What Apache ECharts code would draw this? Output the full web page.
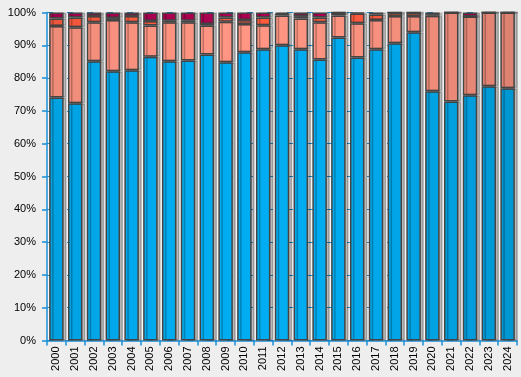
<!DOCTYPE html>
<html>
<head>
<meta charset="utf-8">
<script src="https://cdn.jsdelivr.net/npm/echarts@6/dist/echarts.min.js"></script>
<style>
html,body{margin:0;padding:0;background:#eeeeee;}
#c{width:521px;height:377px;}
</style>
</head>
<body>
<div id="c"></div>
<script>
const years = ['2000','2001','2002','2003','2004','2005','2006','2007','2008','2009','2010','2011','2012','2013','2014','2015','2016','2017','2018','2019','2020','2021','2022','2023','2024'];
const seriesBlue   = [74.1,72.3,85.1,82.1,82.4,86.5,85.1,85.4,87.2,84.8,87.9,88.8,90.0,88.8,85.7,92.4,86.3,88.8,90.6,94.0,76.0,72.9,74.8,77.5,76.9];
const seriesSalmon = [21.8,23.2,11.9,15.6,14.6,9.5,11.9,11.6,8.8,12.4,8.6,7.3,9.1,9.4,11.3,6.7,10.4,8.9,8.3,4.9,23.0,27.1,24.0,22.5,23.1];
const seriesOrange = [2.3,3.0,1.9,0.6,1.9,1.4,0.5,0.5,0.5,1.3,1.2,2.4,0.5,0.7,1.5,0.9,3.0,1.7,1.1,1.1,0.5,0,0,0,0];
const seriesMaroon = [1.8,1.5,1.1,1.7,1.1,2.6,2.5,2.5,3.5,1.5,2.3,1.5,0.4,1.1,1.5,0,0.3,0.6,0,0,0.5,0,1.2,0,0];
const yTicks = [0,10,20,30,40,50,60,70,80,90,100];

function shade(hex, f){
  const n = parseInt(hex.slice(1),16);
  const r = Math.round(((n>>16)&255)*f), g = Math.round(((n>>8)&255)*f), b = Math.round((n&255)*f);
  return 'rgb('+r+','+g+','+b+')';
}
function factor(i){ const d=(i-10)/14; return 1-0.13*d*d; }
function mk(name, data, base){
  return {
    name, type:'bar', stack:'total', barWidth:14.5,
    data: data.map((v,i)=>({value:v, itemStyle:{color:shade(base,factor(i))}})),
    itemStyle:{borderColor:'#444444', borderWidth:1.5, shadowColor:'rgba(0,0,0,0.25)', shadowOffsetX:3, shadowOffsetY:0, shadowBlur:0},
    emphasis:{disabled:true}
  };
}
const chart = echarts.init(document.getElementById('c'), null, {renderer:'canvas'});
chart.setOption({
  backgroundColor:'#eeeeee',
  animation:false,
  grid:{left:47, right:4, top:12.5, bottom:36.5, show:true, backgroundColor:'#f8f8f8', borderWidth:0},
  xAxis:{
    type:'category', data:years, boundaryGap:true,
    axisLine:{lineStyle:{color:'#1a8fd6', width:1.5}},
    axisTick:{show:true, length:5, lineStyle:{color:'#1a8fd6', width:1.5}},
    axisLabel:{rotate:90, margin:6, color:'#000', fontFamily:'Liberation Sans, Arial', fontSize:11, interval:0}
  },
  yAxis:{
    type:'value', min:yTicks[0], max:yTicks[yTicks.length-1], interval:10,
    axisLine:{show:true, lineStyle:{color:'#1a8fd6', width:1.5}},
    axisTick:{show:true, length:5, lineStyle:{color:'#1a8fd6', width:1.5}},
    splitLine:{show:true, lineStyle:{color:'#1a8fd6', type:[6,14], width:1}},
    axisLabel:{formatter:'{value}%', margin:11, color:'#000', fontFamily:'Liberation Sans, Arial', fontSize:11}
  },
  series:[
    mk('A', seriesBlue, '#00adf2'),
    mk('B', seriesSalmon, '#ff9582'),
    mk('C', seriesOrange, '#ff5c3e'),
    mk('D', seriesMaroon, '#aa0050')
  ]
});
</script>
</body>
</html>
